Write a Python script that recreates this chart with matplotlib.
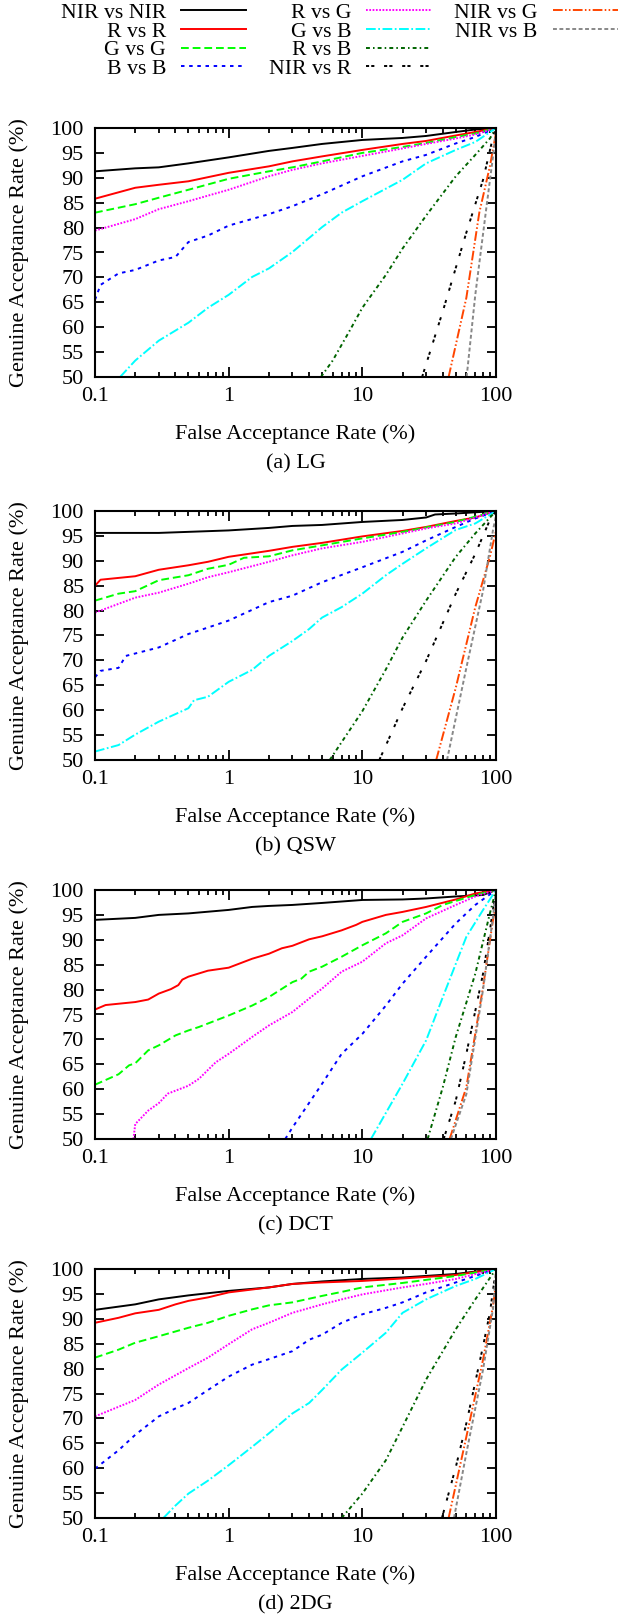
import matplotlib
matplotlib.use("Agg")
import matplotlib.pyplot as plt
from matplotlib.lines import Line2D
from matplotlib.ticker import NullFormatter

plt.rcParams["font.family"] = ["Liberation Serif", "DejaVu Serif"]
plt.rcParams["font.size"] = 16

# series order as in the legend
SERIES = ["NIR vs NIR", "R vs R", "G vs G", "B vs B", "R vs G",
          "G vs B", "R vs B", "NIR vs R", "NIR vs G", "NIR vs B"]
CAPTIONS = ["(a) LG", "(b) QSW", "(c) DCT", "(d) 2DG"]
X_TICKS = [0.1, 1, 10, 100]
X_TICK_LABELS = ["0.1", "1", "10", "100"]
Y_TICKS = list(range(50, 101, 5))

# (FAR %, GAR %)
# (a) LG
LG_NIR_NIR = ([0.1, 0.2, 0.3, 0.5, 1, 2, 3, 5, 10, 20, 30, 50, 70, 100],
              [91.3, 91.9, 92.1, 92.9, 94.1, 95.4, 96.0, 96.8, 97.6, 98.0, 98.4, 99.2, 99.7, 100])
LG_R_R = ([0.1, 0.2, 0.3, 0.5, 1, 2, 3, 5, 10, 20, 30, 50, 70, 100],
          [85.8, 88.0, 88.6, 89.3, 91.0, 92.3, 93.3, 94.3, 95.6, 96.8, 97.4, 98.5, 99.2, 100])
LG_G_G = ([0.1, 0.2, 0.3, 0.5, 1, 2, 3, 5, 10, 20, 30, 50, 70, 100],
          [83.0, 84.7, 86.0, 87.6, 89.8, 91.3, 92.1, 93.3, 95.0, 96.2, 97.0, 98.2, 98.9, 100])
LG_B_B = ([0.1, 0.11, 0.15, 0.2, 0.3, 0.4, 0.5, 0.7, 1, 2, 3, 5, 10, 20, 30, 50, 70, 100],
          [65.5, 68.5, 70.8, 71.5, 73.4, 74.1, 77.1, 78.4, 80.4, 82.7, 84.3, 86.7, 90.3, 93.3, 94.6, 96.9, 98.2, 100])
LG_R_G = ([0.1, 0.2, 0.3, 0.5, 1, 2, 3, 5, 10, 20, 30, 50, 70, 100],
          [79.4, 81.7, 83.7, 85.3, 87.6, 90.3, 91.6, 92.9, 94.4, 95.9, 96.8, 97.9, 98.7, 100])
LG_G_B = ([0.154, 0.2, 0.3, 0.5, 0.7, 1, 1.5, 2, 3, 5, 7, 10, 20, 30, 50, 70, 100],
          [50, 53.3, 57.3, 60.9, 63.9, 66.5, 70.1, 71.8, 75.1, 80.1, 83.0, 85.3, 89.6, 92.9, 95.6, 97.2, 100])
LG_R_B = ([4.9, 6, 8, 10, 15, 20, 30, 50, 70, 90, 100],
          [50, 53.3, 59.2, 63.9, 70.5, 75.8, 82.4, 90.3, 94.6, 97.9, 100])
LG_NIR_R = ([28, 40, 60, 80, 95, 100], [50, 63.2, 79.0, 89.6, 98.2, 100])
LG_NIR_G = ([44.2, 60, 75, 90, 100], [50, 65.9, 83.0, 92.3, 99.0])
LG_NIR_B = ([60.3, 70, 85, 95, 100], [50, 66.5, 84.3, 94.3, 99.5])

# (b) QSW
QSW_NIR_NIR = ([0.1, 0.3, 1, 2, 3, 5, 10, 20, 30, 35, 50, 100],
               [95.6, 95.6, 96.1, 96.6, 97.0, 97.2, 97.8, 98.2, 98.7, 99.3, 99.5, 100])
QSW_R_R = ([0.1, 0.11, 0.2, 0.3, 0.5, 0.7, 1, 2, 3, 5, 10, 20, 30, 50, 70, 100],
           [85.0, 86.2, 86.9, 88.2, 89.1, 89.8, 90.8, 92.0, 92.8, 93.6, 94.9, 96.0, 96.8, 98.0, 98.7, 100])
QSW_G_G = ([0.1, 0.15, 0.2, 0.3, 0.5, 0.7, 1, 1.3, 2, 3, 5, 10, 20, 30, 50, 100],
           [82.0, 83.4, 83.9, 86.1, 87.1, 88.4, 89.2, 90.6, 90.9, 92.1, 93.1, 94.5, 95.8, 96.7, 97.8, 100])
QSW_B_B = ([0.1, 0.11, 0.15, 0.17, 0.3, 0.5, 0.7, 1, 2, 3, 5, 10, 20, 30, 50, 70, 100],
           [66.6, 67.9, 68.5, 70.9, 72.6, 75.3, 76.6, 78.0, 81.7, 83.0, 85.7, 88.7, 91.8, 94.1, 96.8, 98.5, 100])
QSW_R_G = ([0.1, 0.2, 0.3, 0.5, 0.7, 1, 2, 3, 5, 10, 20, 30, 50, 100],
           [79.6, 82.6, 83.6, 85.4, 86.7, 87.7, 89.8, 91.1, 92.5, 93.8, 95.5, 96.5, 97.5, 100])
QSW_G_B = ([0.1, 0.15, 0.2, 0.3, 0.5, 0.55, 0.7, 1, 1.5, 2, 3, 4, 5, 7, 10, 15, 20, 30, 50, 70, 100],
           [51.7, 53.0, 55.1, 57.7, 60.4, 62.0, 62.7, 65.7, 68.1, 70.9, 73.9, 76.3, 78.6, 80.7, 83.4, 87.1, 89.4, 92.5, 96.2, 97.5, 100])
QSW_R_B = ([5.7, 10, 15, 20, 30, 50, 70, 100], [50, 59.8, 68.2, 74.6, 82.0, 90.8, 95.5, 100])
QSW_NIR_R = ([13.4, 20, 30, 50, 70, 90, 100], [50, 60.4, 69.9, 83.4, 91.4, 98.2, 100])
QSW_NIR_G = ([35.7, 50, 70, 90, 100], [50, 64.5, 80.7, 90.8, 96.0])
QSW_NIR_B = ([43, 60, 80, 95, 100], [50, 68.5, 84.0, 96.2, 99.0])

# (c) DCT
DCT_NIR_NIR = ([0.1, 0.2, 0.3, 0.5, 1, 1.5, 2, 3, 5, 10, 20, 30, 50, 80, 100],
               [94.0, 94.4, 95.0, 95.3, 96.0, 96.6, 96.8, 97.0, 97.4, 98.0, 98.1, 98.3, 98.7, 99.0, 100])
DCT_R_R = ([0.1, 0.12, 0.2, 0.25, 0.3, 0.37, 0.42, 0.45, 0.5, 0.7, 1, 1.5, 2, 2.5, 3, 4, 5, 7, 9, 10, 15, 20, 30, 50, 70, 100],
           [76.0, 76.9, 77.5, 78.0, 79.2, 80.1, 80.9, 82.0, 82.6, 83.8, 84.4, 86.2, 87.2, 88.3, 88.8, 90.1, 90.7, 91.9, 93.0, 93.6, 95.0, 95.6, 96.6, 98.1, 99.3, 100])
DCT_G_G = ([0.1, 0.15, 0.18, 0.2, 0.25, 0.3, 0.4, 0.5, 0.6, 1, 1.5, 2, 3, 3.5, 4, 5, 7, 10, 15, 20, 30, 40, 70, 100],
           [60.9, 63.0, 64.8, 65.2, 67.8, 68.8, 70.8, 71.8, 72.5, 74.8, 76.8, 78.5, 81.5, 82.2, 83.6, 84.6, 86.6, 88.9, 91.3, 93.6, 95.3, 97.0, 99.0, 100])
DCT_B_B = ([2.65, 3, 5, 7, 10, 15, 20, 30, 50, 70, 100],
           [50, 52.3, 61.1, 67.1, 71.1, 76.8, 81.2, 86.6, 93.3, 97.0, 100])
DCT_R_G = ([0.194, 0.2, 0.25, 0.3, 0.35, 0.5, 0.6, 0.8, 1, 1.5, 2, 3, 4, 5, 7, 10, 15, 20, 30, 50, 70, 100],
           [50, 53.0, 55.7, 57.2, 59.1, 60.7, 62.1, 65.4, 67.1, 70.5, 72.8, 75.5, 78.2, 80.2, 83.6, 85.6, 89.3, 90.9, 94.3, 97.0, 98.7, 100])
DCT_G_B = ([11.6, 20, 30, 40, 60, 80, 100], [50, 61.1, 69.8, 78.5, 90.6, 96.0, 100])
DCT_R_B = ([30.8, 40, 50, 70, 90, 100], [50, 60.4, 70.5, 83.2, 95.3, 100])
DCT_NIR_R = ([40.6, 50, 60, 80, 90, 100], [50, 57.7, 67.1, 83.2, 91.9, 100])
DCT_NIR_G = ([45, 60, 80, 95, 100], [50, 60.4, 80.5, 94.0, 97.0])
DCT_NIR_B = ([46, 60, 80, 95, 100], [50, 59.0, 80.0, 94.6, 100])

# (d) 2DG
DG_NIR_NIR = ([0.1, 0.2, 0.3, 0.5, 1, 2, 3, 5, 10, 20, 50, 100],
              [91.8, 92.9, 93.9, 94.7, 95.6, 96.3, 97.0, 97.5, 98.0, 98.3, 99.0, 100])
DG_R_R = ([0.1, 0.15, 0.2, 0.3, 0.4, 0.5, 0.7, 1, 2, 3, 5, 10, 20, 50, 100],
          [89.2, 90.2, 91.1, 91.8, 92.9, 93.6, 94.3, 95.3, 96.3, 97.0, 97.3, 97.6, 98.1, 98.8, 100])
DG_G_G = ([0.1, 0.15, 0.2, 0.3, 0.5, 0.7, 1, 1.5, 2, 3, 5, 7, 10, 20, 50, 100],
          [82.2, 83.8, 85.2, 86.5, 88.2, 89.2, 90.6, 91.9, 92.7, 93.3, 94.6, 95.4, 96.3, 97.2, 98.6, 100])
DG_B_B = ([0.1, 0.15, 0.2, 0.3, 0.4, 0.5, 0.7, 1, 1.5, 2, 3, 4, 5, 7, 10, 15, 20, 30, 50, 100],
          [59.9, 63.6, 66.7, 70.4, 72.0, 73.1, 75.7, 78.4, 80.8, 81.9, 83.5, 85.8, 86.8, 89.2, 90.9, 92.2, 93.3, 95.3, 97.3, 100])
DG_R_G = ([0.1, 0.2, 0.3, 0.5, 0.7, 1, 1.5, 2, 3, 5, 7, 10, 20, 30, 50, 100],
          [70.4, 73.7, 76.8, 80.1, 82.2, 84.9, 87.9, 89.2, 91.2, 92.9, 93.9, 94.9, 96.3, 97.0, 98.0, 100])
DG_G_B = ([0.325, 0.4, 0.5, 0.7, 1, 1.5, 2, 3, 4, 5, 7, 10, 15, 20, 30, 50, 70, 100],
          [50, 52.5, 54.9, 57.5, 60.6, 64.3, 67.0, 71.0, 73.1, 75.7, 79.8, 83.2, 87.2, 91.2, 93.9, 96.6, 98.0, 100])
DG_R_B = ([7.0, 10, 15, 20, 30, 50, 70, 100], [50, 54.9, 61.6, 68.3, 77.8, 87.9, 93.9, 100])
DG_NIR_R = ([39.4, 50, 60, 80, 90, 100], [50, 60.2, 69.0, 84.5, 91.2, 100])
DG_NIR_G = ([44.2, 60, 80, 95, 100], [50, 66.3, 81.8, 92.6, 97.0])
DG_NIR_B = ([48.5, 60, 80, 95, 100], [50, 63.0, 79.8, 92.0, 100])

PANEL_DATA = [
    [LG_NIR_NIR, LG_R_R, LG_G_G, LG_B_B, LG_R_G, LG_G_B, LG_R_B, LG_NIR_R, LG_NIR_G, LG_NIR_B],
    [QSW_NIR_NIR, QSW_R_R, QSW_G_G, QSW_B_B, QSW_R_G, QSW_G_B, QSW_R_B, QSW_NIR_R, QSW_NIR_G, QSW_NIR_B],
    [DCT_NIR_NIR, DCT_R_R, DCT_G_G, DCT_B_B, DCT_R_G, DCT_G_B, DCT_R_B, DCT_NIR_R, DCT_NIR_G, DCT_NIR_B],
    [DG_NIR_NIR, DG_R_R, DG_G_G, DG_B_B, DG_R_G, DG_G_B, DG_R_B, DG_NIR_R, DG_NIR_G, DG_NIR_B],
]

COLORS = ["#000000", "#ff0000", "#00ff00", "#0000ff", "#ff00ff",
          "#00ffff", "#006400", "#000000", "#ff4500", "#888888"]
LINESTYLES = [
    "-",
    "-",
    (0, (4, 2)),
    (0, (1.8, 2.4)),
    (0, (0.9, 0.8)),
    (0, (5, 1.3, 0.9, 1.3)),
    (0, (2, 1.6, 0.8, 1.6)),
    (0, (1.6, 1.1, 1.6, 5)),
    (0, (5, 1.2, 0.8, 1.2, 0.8, 1.2)),
    (0, (2, 1.3)),
]

W, H = 627, 1617
AX_LEFT, AX_WIDTH, AX_HEIGHT = 95, 401, 249
AX_TOPS = [128, 511, 890, 1269]

fig = plt.figure(figsize=(W / 100, H / 100), dpi=100)
handles = []
for panel, (top, caption, series_list) in enumerate(zip(AX_TOPS, CAPTIONS, PANEL_DATA)):
    ax = fig.add_axes([AX_LEFT / W, 1 - (top + AX_HEIGHT) / H, AX_WIDTH / W, AX_HEIGHT / H])
    for label, (far, gar), color, ls in zip(SERIES, series_list, COLORS, LINESTYLES):
        line, = ax.plot(far, gar, color=color, linestyle=ls, linewidth=1.4, label=label)
        if panel == 0:
            handles.append(line)
    ax.set_xscale("log")
    ax.set_xlim(0.1, 100)
    ax.set_ylim(50, 100)
    ax.set_xticks(X_TICKS, labels=X_TICK_LABELS)
    ax.xaxis.set_minor_formatter(NullFormatter())
    ax.set_yticks(Y_TICKS)
    ax.tick_params(which="both", direction="in", top=True, right=True, width=1.3, labelsize=16)
    ax.tick_params(axis="x", which="major", length=7, pad=7)
    ax.tick_params(axis="x", which="minor", length=3.6)
    ax.tick_params(axis="y", which="major", length=6.5, pad=8)
    for spine in ax.spines.values():
        spine.set_linewidth(1.5)
    ax.set_xlabel("False Acceptance Rate (%)", va="center")
    ax.xaxis.set_label_coords(0.5, -57 / AX_HEIGHT)
    ax.set_ylabel("Genuine Acceptance Rate (%)", va="center")
    ax.yaxis.set_label_coords(-76 / AX_WIDTH, 0.5)
    ax.text(0.5, -87 / AX_HEIGHT, caption, transform=ax.transAxes, ha="center", va="center")

blank = Line2D([], [], linestyle="none")
fig.legend(handles + [blank, blank], SERIES + ["", ""], ncol=3, markerfirst=False,
           loc="upper left", bbox_to_anchor=(61 / W, 1 - 2.5 / H), frameon=False,
           fontsize=15.7, handlelength=2.98, handletextpad=0.69, columnspacing=1.05,
           labelspacing=-0.07, borderpad=0, borderaxespad=0)

fig.savefig("out.png", dpi=100)
